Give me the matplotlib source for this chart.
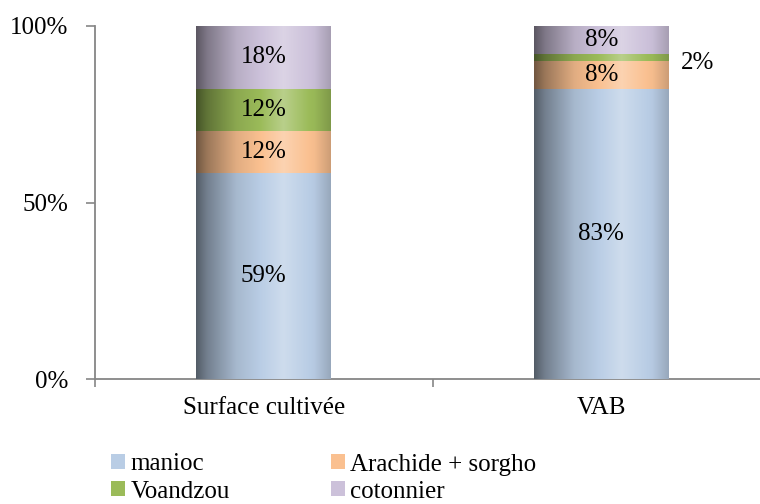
import matplotlib
matplotlib.use("Agg")
import matplotlib.pyplot as plt
import numpy as np
from matplotlib.patches import Patch
from matplotlib.colors import to_rgb

plt.rcParams['font.family'] = ['Liberation Serif', 'DejaVu Serif']

categories = ["Surface cultivée", "VAB"]
series_names = ["manioc", "Arachide + sorgho", "Voandzou", "cotonnier"]
manioc = [59, 83]
arachide = [12, 8]
voandzou = [12, 2]
cotonnier = [18, 8]
colors = ["#B9CDE5", "#FAC090", "#9BBB59", "#CCC1DA"]
yticks = [0, 50, 100]
ytick_labels = ["0%", "50%", "100%"]

values = np.array([manioc, arachide, voandzou, cotonnier], dtype=float)
totals = values.sum(axis=0)
heights = values / totals * 100

fig = plt.figure(figsize=(7.6, 5.04), dpi=100)
ax = fig.add_axes([95/760, 125/504, 675/760, 353/504])

x = np.arange(len(categories))
bottom = np.zeros(len(categories))
axis_grey = "#868686"
FS = 18

# horizontal shading profile for cylinder look
n = 200
t = np.linspace(0, 1, n)
profile = np.interp(t, [0, 0.08, 0.3, 0.65, 0.88, 1.0], [0.45, 0.62, 0.9, 1.1, 0.98, 0.82])

for i, (name, col) in enumerate(zip(series_names, colors)):
    bars = ax.bar(x, heights[i], bottom=bottom, width=0.4, color=col, label=name,
                  edgecolor='none', zorder=2)
    base = np.array(to_rgb(col))
    for b in bars:
        img = np.zeros((2, n, 3))
        for k in range(n):
            f = profile[k]
            if f <= 1:
                c = base * f
            else:
                c = base + (1 - base) * (f - 1) * 3
            img[:, k, :] = np.clip(c, 0, 1)
        x0, y0, w, h = b.get_x(), b.get_y(), b.get_width(), b.get_height()
        im = ax.imshow(img, extent=[x0, x0 + w, y0, y0 + h], aspect='auto',
                       interpolation='bilinear', zorder=3)
        im.set_clip_path(b)
    bottom += heights[i]

# value labels
bottom = np.zeros(len(categories))
for i in range(len(series_names)):
    for j in range(len(categories)):
        v = values[i, j]
        yc = bottom[j] + heights[i, j] / 2
        if heights[i, j] < 4:
            ax.text(x[j] + 0.236, yc - 1.6, f"{v:.0f}%", ha='left', va='center',
                    fontsize=FS, zorder=5)
        else:
            ax.text(x[j], yc, f"{v:.0f}%", ha='center', va='center', fontsize=FS, zorder=5)
    bottom += heights[i]

ax.set_ylim(0, 100)
ax.set_xlim(-0.5, 1.5)
ax.set_yticks(yticks)
ax.set_yticklabels(ytick_labels, fontsize=FS)
ax.set_xticks([-0.5, 0.5, 1.5])
ax.set_xticklabels([])
ax.set_xticks(x, minor=True)
ax.set_xticklabels(categories, minor=True, fontsize=FS)
ax.tick_params(axis='x', which='minor', length=0, pad=13)
ax.tick_params(axis='x', which='major', length=6, color=axis_grey, width=1.2, direction='out')
ax.tick_params(axis='y', length=6.5, color=axis_grey, width=1.2, direction='out', pad=13)
for s in ['top', 'right']:
    ax.spines[s].set_visible(False)
for s in ['left', 'bottom']:
    ax.spines[s].set_color(axis_grey)
    ax.spines[s].set_linewidth(1.3)

handles = [Patch(facecolor=colors[k], edgecolor='none') for k in range(4)]
order = [0, 2, 1, 3]
fig.legend([handles[k] for k in order], [series_names[k] for k in order],
           ncol=2, loc='upper left', bbox_to_anchor=(99/760, 1 - 441/504),
           frameon=False, fontsize=FS, handlelength=0.55, handleheight=0.55,
           handletextpad=0.2, columnspacing=4.05, labelspacing=0.2, borderpad=0)

fig.savefig("out.png", dpi=100)
